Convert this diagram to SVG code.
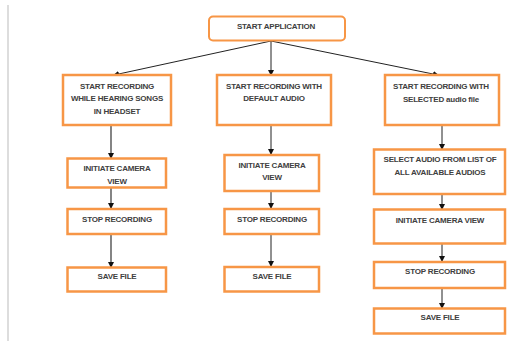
<svg xmlns="http://www.w3.org/2000/svg" width="529" height="341" viewBox="0 0 529 341">
<style>
.box{fill:#fff;stroke:#F79646;stroke-width:2.5}
.start{fill:#fff;stroke:#F79646;stroke-width:2}
text{font-family:"Liberation Sans",Arial,sans-serif;font-size:8px;font-weight:bold;fill:#404040;text-anchor:middle;letter-spacing:-0.2px}
.c{stroke:#222;stroke-width:1;fill:none;marker-end:url(#ah)}
.g{stroke:#666;stroke-width:1.6;fill:none;marker-end:url(#ah)}
</style>
<defs>
<marker id="ah" markerWidth="6" markerHeight="6" refX="5" refY="3" orient="auto" markerUnits="userSpaceOnUse">
<path d="M0,0 L6,3 L0,6 Z" fill="#111"/>
</marker>
</defs>
<rect width="529" height="341" fill="#fff"/>
<line x1="8" y1="5" x2="8" y2="341" stroke="#ddd" stroke-width="2"/>
<g id="connectors">
<line class="c" x1="271" y1="41" x2="114" y2="75"/>
<line class="c" x1="271" y1="41" x2="271" y2="75"/>
<line class="c" x1="271" y1="41" x2="438" y2="75"/>
<line class="g" x1="111" y1="126" x2="111" y2="158"/>
<line class="g" x1="111" y1="188" x2="111" y2="208"/>
<line class="g" x1="111" y1="235" x2="111" y2="267"/>
<line class="c" x1="271" y1="126" x2="271" y2="154"/>
<line class="c" x1="271" y1="192" x2="271" y2="208"/>
<line class="c" x1="271" y1="235" x2="271" y2="266"/>
<line class="c" x1="442" y1="126" x2="442" y2="149"/>
<line class="c" x1="442" y1="195" x2="442" y2="209"/>
<line class="c" x1="442" y1="244" x2="442" y2="261"/>
<line class="c" x1="442" y1="289" x2="442" y2="308"/>
</g>
<g id="start-application">
<rect class="start" x="209" y="16.5" width="136" height="24" rx="4"/>
<text x="276" y="29">START APPLICATION</text>
</g>
<g id="rec-headset">
<rect class="box" x="63" y="75" width="108" height="50"/>
<text x="117" y="89">START RECORDING</text>
<text x="117" y="101.3">WHILE HEARING SONGS</text>
<text x="117" y="113.7">IN HEADSET</text>
</g>
<g id="rec-default">
<rect class="box" x="217" y="75" width="114" height="50"/>
<text x="274" y="89">START RECORDING WITH</text>
<text x="274" y="101.3">DEFAULT AUDIO</text>
</g>
<g id="rec-selected">
<rect class="box" x="385" y="75" width="114" height="50"/>
<text x="441" y="89">START RECORDING WITH</text>
<text x="441" y="101.5">SELECTED audio file</text>
</g>
<g id="cam-left">
<rect class="box" x="67.5" y="158.5" width="98.5" height="29"/>
<text x="117" y="171.3">INITIATE CAMERA</text>
<text x="117" y="183.7">VIEW</text>
</g>
<g id="stop-left">
<rect class="box" x="67.5" y="209" width="98.5" height="25"/>
<text x="117" y="222">STOP RECORDING</text>
</g>
<g id="save-left">
<rect class="box" x="67.5" y="267.5" width="98.5" height="24"/>
<text x="117" y="279">SAVE FILE</text>
</g>
<g id="cam-mid">
<rect class="box" x="224.5" y="155" width="94.5" height="36"/>
<text x="272" y="168">INITIATE CAMERA</text>
<text x="272" y="180.3">VIEW</text>
</g>
<g id="stop-mid">
<rect class="box" x="224.5" y="209" width="94.5" height="25"/>
<text x="272" y="222">STOP RECORDING</text>
</g>
<g id="save-mid">
<rect class="box" x="224.5" y="267" width="94.5" height="24.5"/>
<text x="272" y="279">SAVE FILE</text>
</g>
<g id="select-audio">
<rect class="box" x="374" y="149.5" width="131" height="44.5"/>
<text x="440" y="162.3">SELECT AUDIO FROM LIST OF</text>
<text x="440" y="175.3">ALL AVAILABLE AUDIOS</text>
</g>
<g id="cam-right">
<rect class="box" x="374" y="209.5" width="131" height="34"/>
<text x="440" y="223">INITIATE CAMERA VIEW</text>
</g>
<g id="stop-right">
<rect class="box" x="374" y="262" width="131" height="26"/>
<text x="440" y="274">STOP RECORDING</text>
</g>
<g id="save-right">
<rect class="box" x="374" y="308.5" width="131" height="25"/>
<text x="440" y="320.3">SAVE FILE</text>
</g>
</svg>
